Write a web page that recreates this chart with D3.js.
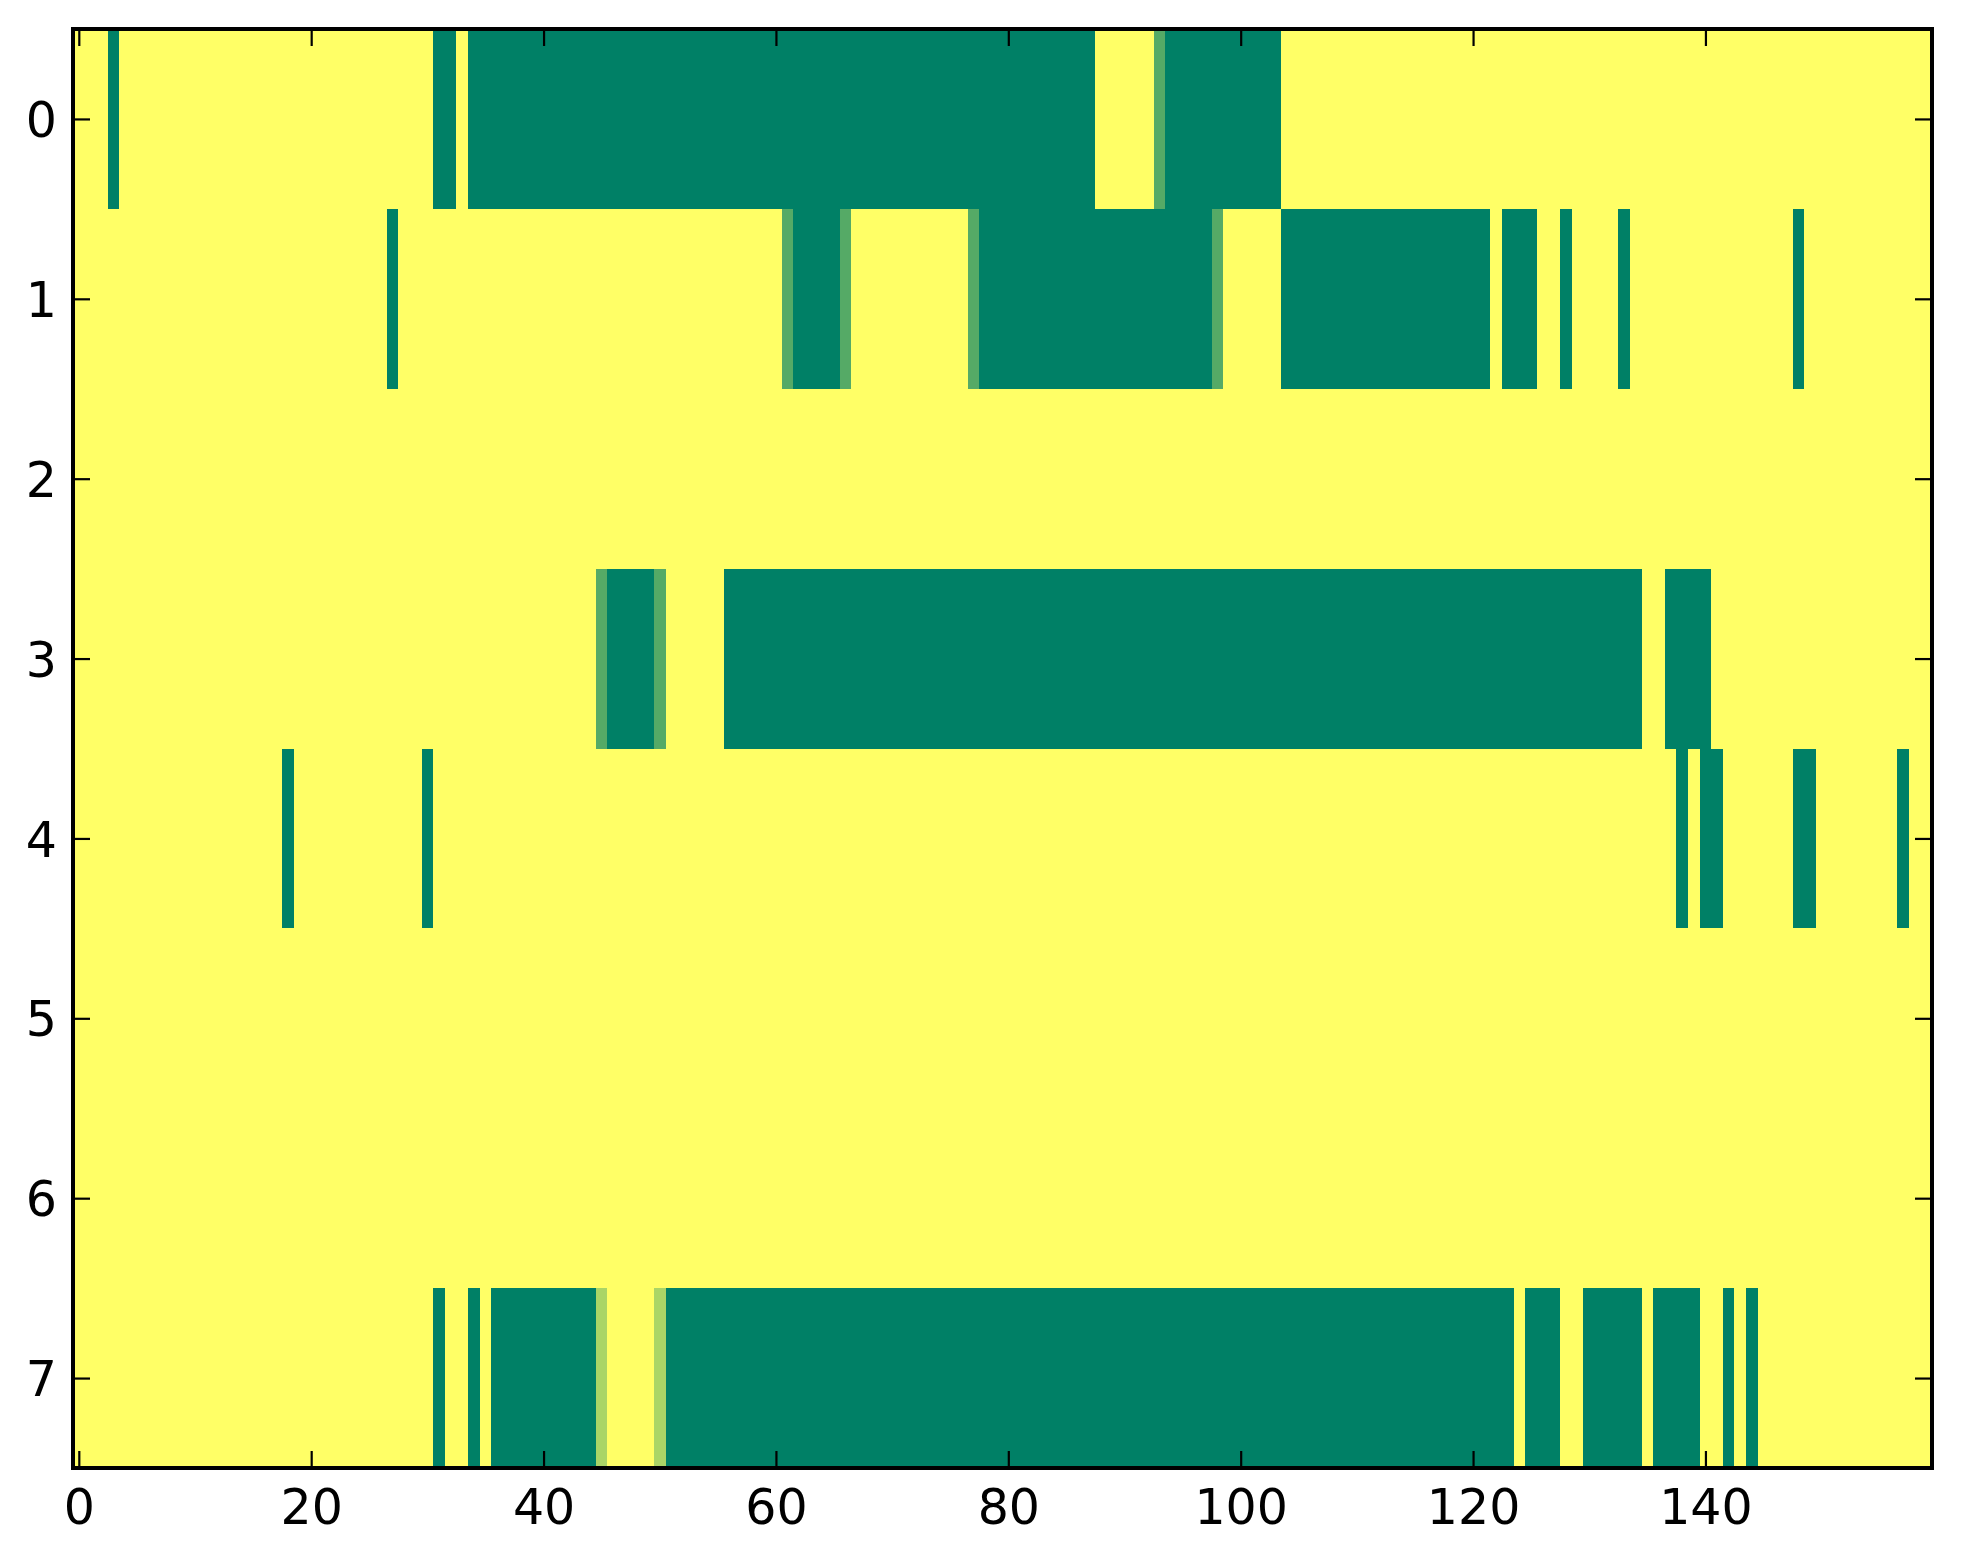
<!DOCTYPE html>
<html>
<head>
<meta charset="utf-8">
<script src="https://cdn.jsdelivr.net/npm/d3@7"></script>
<style>
  html, body { margin: 0; padding: 0; background: #fff; }
  svg { display: block; }
  .tick text { font-family: "DejaVu Sans", sans-serif; font-size: 49px; fill: #000; }
</style>
</head>
<body>
<div id="chart"></div>
<script>
// cell levels: 0 = yellow, 1 = light, 2 = medium, 3 = dark green
const row0 = [
  0,0,0,3,0,0,0,0,0,0, 0,0,0,0,0,0,0,0,0,0,
  0,0,0,0,0,0,0,0,0,0, 0,3,3,0,3,3,3,3,3,3,
  3,3,3,3,3,3,3,3,3,3, 3,3,3,3,3,3,3,3,3,3,
  3,3,3,3,3,3,3,3,3,3, 3,3,3,3,3,3,3,3,3,3,
  3,3,3,3,3,3,3,3,0,0, 0,0,0,2,3,3,3,3,3,3,
  3,3,3,3,0,0,0,0,0,0, 0,0,0,0,0,0,0,0,0,0,
  0,0,0,0,0,0,0,0,0,0, 0,0,0,0,0,0,0,0,0,0,
  0,0,0,0,0,0,0,0,0,0, 0,0,0,0,0,0,0,0,0,0
];
const row1 = [
  0,0,0,0,0,0,0,0,0,0, 0,0,0,0,0,0,0,0,0,0,
  0,0,0,0,0,0,0,3,0,0, 0,0,0,0,0,0,0,0,0,0,
  0,0,0,0,0,0,0,0,0,0, 0,0,0,0,0,0,0,0,0,0,
  0,2,3,3,3,3,2,0,0,0, 0,0,0,0,0,0,0,2,3,3,
  3,3,3,3,3,3,3,3,3,3, 3,3,3,3,3,3,3,3,2,0,
  0,0,0,0,3,3,3,3,3,3, 3,3,3,3,3,3,3,3,3,3,
  3,3,0,3,3,3,0,0,3,0, 0,0,0,3,0,0,0,0,0,0,
  0,0,0,0,0,0,0,0,3,0, 0,0,0,0,0,0,0,0,0,0
];
const row2 = [
  0,0,0,0,0,0,0,0,0,0, 0,0,0,0,0,0,0,0,0,0,
  0,0,0,0,0,0,0,0,0,0, 0,0,0,0,0,0,0,0,0,0,
  0,0,0,0,0,0,0,0,0,0, 0,0,0,0,0,0,0,0,0,0,
  0,0,0,0,0,0,0,0,0,0, 0,0,0,0,0,0,0,0,0,0,
  0,0,0,0,0,0,0,0,0,0, 0,0,0,0,0,0,0,0,0,0,
  0,0,0,0,0,0,0,0,0,0, 0,0,0,0,0,0,0,0,0,0,
  0,0,0,0,0,0,0,0,0,0, 0,0,0,0,0,0,0,0,0,0,
  0,0,0,0,0,0,0,0,0,0, 0,0,0,0,0,0,0,0,0,0
];
const row3 = [
  0,0,0,0,0,0,0,0,0,0, 0,0,0,0,0,0,0,0,0,0,
  0,0,0,0,0,0,0,0,0,0, 0,0,0,0,0,0,0,0,0,0,
  0,0,0,0,0,2,3,3,3,3, 2,0,0,0,0,0,3,3,3,3,
  3,3,3,3,3,3,3,3,3,3, 3,3,3,3,3,3,3,3,3,3,
  3,3,3,3,3,3,3,3,3,3, 3,3,3,3,3,3,3,3,3,3,
  3,3,3,3,3,3,3,3,3,3, 3,3,3,3,3,3,3,3,3,3,
  3,3,3,3,3,3,3,3,3,3, 3,3,3,3,3,0,0,3,3,3,
  3,0,0,0,0,0,0,0,0,0, 0,0,0,0,0,0,0,0,0,0
];
const row4 = [
  0,0,0,0,0,0,0,0,0,0, 0,0,0,0,0,0,0,0,3,0,
  0,0,0,0,0,0,0,0,0,0, 3,0,0,0,0,0,0,0,0,0,
  0,0,0,0,0,0,0,0,0,0, 0,0,0,0,0,0,0,0,0,0,
  0,0,0,0,0,0,0,0,0,0, 0,0,0,0,0,0,0,0,0,0,
  0,0,0,0,0,0,0,0,0,0, 0,0,0,0,0,0,0,0,0,0,
  0,0,0,0,0,0,0,0,0,0, 0,0,0,0,0,0,0,0,0,0,
  0,0,0,0,0,0,0,0,0,0, 0,0,0,0,0,0,0,0,3,0,
  3,3,0,0,0,0,0,0,3,3, 0,0,0,0,0,0,0,3,0,0
];
const row5 = row2.slice();
const row6 = row2.slice();
const row7 = [
  0,0,0,0,0,0,0,0,0,0, 0,0,0,0,0,0,0,0,0,0,
  0,0,0,0,0,0,0,0,0,0, 0,3,0,0,3,0,3,3,3,3,
  3,3,3,3,3,1,0,0,0,0, 1,3,3,3,3,3,3,3,3,3,
  3,3,3,3,3,3,3,3,3,3, 3,3,3,3,3,3,3,3,3,3,
  3,3,3,3,3,3,3,3,3,3, 3,3,3,3,3,3,3,3,3,3,
  3,3,3,3,3,3,3,3,3,3, 3,3,3,3,3,3,3,3,3,3,
  3,3,3,3,0,3,3,3,0,0, 3,3,3,3,3,0,3,3,3,3,
  0,0,3,0,3,0,0,0,0,0, 0,0,0,0,0,0,0,0,0,0
];
const rows = [row0, row1, row2, row3, row4, row5, row6, row7];
const rowTicks = [0, 1, 2, 3, 4, 5, 6, 7];
const colTicks = [0, 20, 40, 60, 80, 100, 120, 140];
const maxLevel = 3;

const width = 1963, height = 1564;
const plot = { left: 73, right: 1932, top: 29, bottom: 1468 };
const nCols = row0.length;
const tickLen = 17;

const svg = d3.select("#chart").append("svg")
  .attr("width", width)
  .attr("height", height);

const x = d3.scaleLinear().domain([-0.5, nCols - 0.5]).range([plot.left, plot.right]);
const y = d3.scaleLinear().domain([-0.5, rows.length - 0.5]).range([plot.top, plot.bottom]);

// summer colormap, reversed: 0 -> yellow, max -> green
const color = d3.scaleLinear()
  .domain([0, maxLevel])
  .range(["#ffff66", "#008066"])
  .interpolate(d3.interpolateRgb);

const cells = [];
rows.forEach((r, i) => r.forEach((v, j) => cells.push({ row: i, col: j, v: v })));

svg.append("g")
  .attr("shape-rendering", "crispEdges")
  .selectAll("rect")
  .data(cells)
  .enter()
  .append("rect")
  .attr("x", d => x(d.col - 0.5))
  .attr("y", d => y(d.row - 0.5))
  .attr("width", d => x(d.col + 0.5) - x(d.col - 0.5) + 0.5)
  .attr("height", d => y(d.row + 0.5) - y(d.row - 0.5) + 0.5)
  .attr("fill", d => color(d.v));

// axes, ticks pointing inward
const axBottom = svg.append("g")
  .attr("transform", `translate(0,${plot.bottom})`)
  .call(d3.axisBottom(x).tickValues(colTicks).tickSizeInner(-tickLen).tickSizeOuter(0).tickPadding(21));
const axTop = svg.append("g")
  .attr("transform", `translate(0,${plot.top})`)
  .call(d3.axisTop(x).tickValues(colTicks).tickSizeInner(-tickLen).tickSizeOuter(0).tickFormat(""));
const axLeft = svg.append("g")
  .attr("transform", `translate(${plot.left},0)`)
  .call(d3.axisLeft(y).tickValues(rowTicks).tickSizeInner(-tickLen).tickSizeOuter(0).tickPadding(16));
const axRight = svg.append("g")
  .attr("transform", `translate(${plot.right},0)`)
  .call(d3.axisRight(y).tickValues(rowTicks).tickSizeInner(-tickLen).tickSizeOuter(0).tickFormat(""));

[axBottom, axTop, axLeft, axRight].forEach(g => {
  g.select(".domain").remove();
  g.selectAll(".tick line").attr("stroke", "#000").attr("stroke-width", 2.2);
  g.attr("font-family", null).attr("font-size", null);
});
axLeft.selectAll(".tick text").attr("dy", "0.36em");

// frame
svg.append("rect")
  .attr("x", plot.left)
  .attr("y", plot.top)
  .attr("width", plot.right - plot.left)
  .attr("height", plot.bottom - plot.top)
  .attr("fill", "none")
  .attr("stroke", "#000")
  .attr("stroke-width", 4);
</script>
</body>
</html>
